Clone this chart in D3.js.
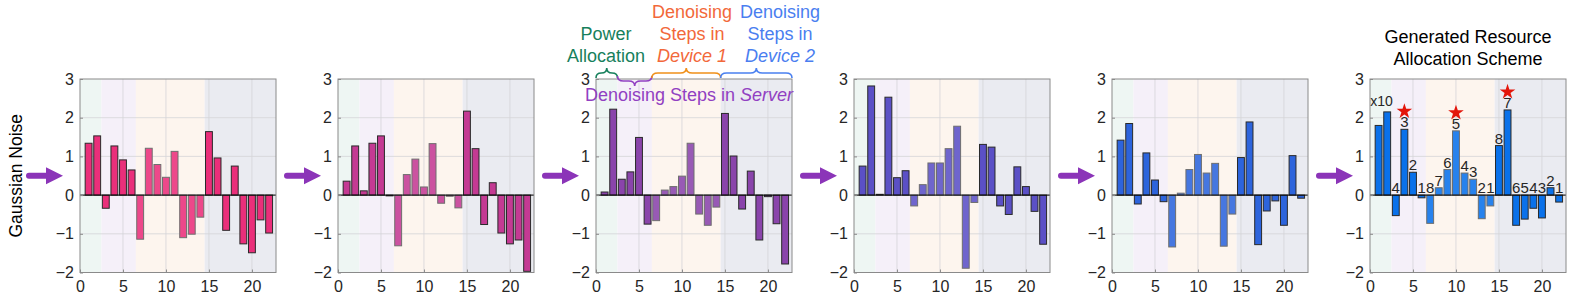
<!DOCTYPE html>
<html><head><meta charset="utf-8">
<script src="https://cdn.jsdelivr.net/npm/d3@7"></script>
<style>body{margin:0;background:#fff}svg text{font-family:"Liberation Sans",Arial,sans-serif;}</style>
</head><body><div id="chart"></div>
<script>
const steps = d3.range(1, 23);
const xTicks = [0, 5, 10, 15, 20];
const yTicks = [-2, -1, 0, 1, 2, 3];
const panel1 = [1.34,1.53,-0.34,1.27,0.91,0.65,-1.14,1.21,0.79,0.46,1.13,-1.10,-1.01,-0.57,1.64,0.96,-0.91,0.75,-1.26,-1.49,-0.64,-0.98];
const panel2 = [0.36,1.27,0.11,1.34,1.53,-0.02,-1.31,0.53,0.93,0.21,1.33,-0.21,-0.03,-0.33,2.17,1.20,-0.76,0.32,-0.98,-1.26,-1.16,-1.97];
const panel3 = [0.08,2.22,0.41,0.60,1.49,-0.75,-0.66,0.13,0.22,0.49,1.34,-0.49,-0.78,-0.31,2.11,1.01,-0.36,0.62,-1.16,-0.04,-0.74,-1.78];
const panel4 = [0.75,2.82,0.02,2.53,0.45,0.63,-0.28,0.27,0.83,0.83,1.20,1.78,-1.89,-0.19,1.31,1.24,-0.28,-0.50,0.73,0.22,-0.42,-1.27];
const panel5 = [1.42,1.85,-0.23,1.09,0.39,-0.17,-1.34,0.05,0.66,1.05,0.57,0.82,-1.32,-0.49,0.97,1.89,-1.28,-0.41,-0.15,-0.78,1.02,-0.08];
const panel6 = [1.80,2.15,-0.53,1.70,0.59,-0.07,-0.73,0.19,0.66,1.66,0.57,0.41,-0.61,-0.28,1.28,2.20,-0.78,-0.62,-0.34,-0.59,0.19,-0.18];
const schemeLabels = ["","","4","3","2","1","8","7","6","5","4","3","2","1","8","7","6","5","4","3","2","1"];
const starSteps = [4, 10, 16];
const regionBounds = [[0, 2.5], [2.5, 6.5], [6.5, 14.5], [14.5, 22.8]];
const yLabel = "Gaussian Noise";
const schemeTitle = ["Generated Resource", "Allocation Scheme"];
const multiplierLabel = "x10";

const panels = [panel1, panel2, panel3, panel4, panel5, panel6];
const barColors = ["#ea2f7a", "#c43a93", "#8a44ab", "#5b50c6", "#2d64dc", "#0a71ea"];
const bandColors = ["#eef6f3", "#f5f0f9", "#fdf5ee", "#eaebf1"];

const W = 1578, H = 300;
const svg = d3.select("#chart").append("svg").attr("width", W).attr("height", H);
const lefts = [80, 338, 596, 854, 1112, 1370];
const pw = 196, plotTop = 79, plotBottom = 272.5;
const textColor = "#262626";

function regionOf(s) { return s <= 2 ? 0 : s <= 6 ? 1 : s <= 14 ? 2 : 3; }

panels.forEach((vals, pi) => {
  const L = lefts[pi];
  const x = d3.scaleLinear().domain([0, 22.8]).range([L, L + pw]);
  const y = d3.scaleLinear().domain([-2, 3]).range([plotBottom, plotTop]);
  const g = svg.append("g");
  g.selectAll("rect.band").data(regionBounds).join("rect")
    .attr("x", d => x(d[0])).attr("width", d => x(d[1]) - x(d[0]))
    .attr("y", plotTop).attr("height", plotBottom - plotTop)
    .attr("fill", (d, i) => bandColors[i]);
  g.selectAll("line.gx").data(xTicks.slice(1)).join("line")
    .attr("x1", d => x(d)).attr("x2", d => x(d)).attr("y1", plotTop).attr("y2", plotBottom)
    .attr("stroke", "#d4d4d8").attr("stroke-width", 0.8);
  g.selectAll("line.gy").data(yTicks.slice(1, -1)).join("line")
    .attr("y1", d => y(d)).attr("y2", d => y(d)).attr("x1", L).attr("x2", L + pw)
    .attr("stroke", "#d4d4d8").attr("stroke-width", 0.8);
  const bw = x(0.8) - x(0);
  const base = d3.color(barColors[pi]);
  g.selectAll("rect.bar").data(vals).join("rect")
    .attr("x", (d, i) => x(steps[i]) - bw / 2)
    .attr("width", bw)
    .attr("y", d => y(Math.max(d, 0)))
    .attr("height", d => Math.abs(y(d) - y(0)))
    .attr("fill", (d, i) => regionOf(steps[i]) === 2 ? d3.interpolateRgb(base, "#ffffff")(0.12) : base)
    .attr("stroke", (d, i) => regionOf(steps[i]) === 2 ? "#6e6e6e" : "#2a2a2a")
    .attr("stroke-width", 1);
  g.append("line").attr("x1", L).attr("x2", L + pw).attr("y1", y(0)).attr("y2", y(0))
    .attr("stroke", "#000").attr("stroke-width", 1);
  g.append("rect").attr("x", L).attr("y", plotTop).attr("width", pw).attr("height", plotBottom - plotTop)
    .attr("fill", "none").attr("stroke", "#8a8a8a").attr("stroke-width", 1);
  const ax = g.append("g").attr("transform", `translate(0,${plotBottom})`)
    .call(d3.axisBottom(x).tickValues(xTicks).tickFormat(d3.format("d")).tickSizeInner(-3).tickSizeOuter(0).tickPadding(8));
  const ay = g.append("g").attr("transform", `translate(${L},0)`)
    .call(d3.axisLeft(y).tickValues(yTicks).tickFormat(d3.format("d")).tickSizeInner(-3).tickSizeOuter(0).tickPadding(6));
  [ax, ay].forEach(a => {
    a.select(".domain").remove();
    a.selectAll(".tick line").attr("stroke", "#8a8a8a");
    a.selectAll(".tick text").attr("fill", textColor).style("font-size", "16px")
      .style("font-family", '"Liberation Sans", Arial, sans-serif');
  });
  const ay0 = y(0.5), ax0 = L - 51, axh = L - 34, ax1 = L - 17;
  g.append("path")
    .attr("d", `M${axh},${ay0 - 3} L${ax0},${ay0 - 3} A3,3 0 0 0 ${ax0},${ay0 + 3} L${axh},${ay0 + 3} L${axh},${ay0 + 8.5} L${ax1},${ay0} L${axh},${ay0 - 8.5} Z`)
    .attr("fill", "#8b34b8");

  if (pi === 0) {
    svg.append("text").attr("transform", `translate(22,${ay0}) rotate(-90)`)
      .attr("text-anchor", "middle").attr("fill", "#000").style("font-size", "17.5px").text(yLabel);
  }
  if (pi === 2) {
    function brace(x1, x2, y0, h) {
      const xm = (x1 + x2) / 2, ym = y0 - h / 2, yt = y0 - h, r = Math.min(6, (x2 - x1) / 4);
      return `M${x1},${y0} Q${x1},${ym} ${x1 + r},${ym} L${xm - r},${ym} Q${xm},${ym} ${xm},${yt} Q${xm},${ym} ${xm + r},${ym} L${x2 - r},${ym} Q${x2},${ym} ${x2},${y0}`;
    }
    const braceCols = ["#17805c", "#9140c2", "#f0901a", "#4a80f0"];
    const braceDefs = [[0, 2.5, 78, 10], [2.5, 6.5, 76, -10], [6.5, 14.5, 78, 10], [14.5, 22.8, 78, 10]];
    braceDefs.forEach((b, i) => {
      g.append("path").attr("d", brace(x(b[0]), x(b[1]), b[2], b[3]))
        .attr("fill", "none").attr("stroke", braceCols[i]).attr("stroke-width", 1.6);
    });
    const ann = g.append("g").style("font-size", "18px").attr("text-anchor", "middle");
    const t1 = ann.append("text").attr("fill", "#17805c");
    t1.append("tspan").attr("x", L + 10).attr("y", 40).text("Power");
    t1.append("tspan").attr("x", L + 10).attr("y", 62).text("Allocation");
    const t2 = ann.append("text").attr("fill", "#f2683a");
    t2.append("tspan").attr("x", L + 96).attr("y", 18).text("Denoising");
    t2.append("tspan").attr("x", L + 96).attr("y", 40).text("Steps in");
    t2.append("tspan").attr("x", L + 96).attr("y", 62).attr("font-style", "italic").text("Device 1");
    const t3 = ann.append("text").attr("fill", "#4a7ef0");
    t3.append("tspan").attr("x", L + 184).attr("y", 18).text("Denoising");
    t3.append("tspan").attr("x", L + 184).attr("y", 40).text("Steps in");
    t3.append("tspan").attr("x", L + 184).attr("y", 62).attr("font-style", "italic").text("Device 2");
    const t4 = g.append("text").attr("x", L - 11).attr("y", 101).attr("fill", "#9140c2").style("font-size", "18px");
    t4.append("tspan").text("Denoising Steps in ");
    t4.append("tspan").attr("font-style", "italic").text("Server");
  }
  if (pi === 5) {
    g.selectAll("text.lbl").data(vals).join("text")
      .attr("x", (d, i) => x(steps[i])).attr("y", d => y(Math.max(d, 0)) - 2)
      .attr("text-anchor", "middle").attr("fill", textColor).style("font-size", "15px")
      .text((d, i) => schemeLabels[i]);
    g.append("text").attr("x", x(1.35)).attr("y", y(2.3)).attr("text-anchor", "middle")
      .attr("fill", textColor).style("font-size", "14px").text(multiplierLabel);
    g.selectAll("path.star").data(starSteps).join("path")
      .attr("transform", s => `translate(${x(s)},${y(vals[s - 1]) - 18})`)
      .attr("d", d3.symbol(d3.symbolStar, 75)).attr("fill", "#e3160b");
    const tt = g.append("text").attr("text-anchor", "middle").attr("fill", "#000").style("font-size", "18px");
    tt.append("tspan").attr("x", L + pw / 2).attr("y", 43).text(schemeTitle[0]);
    tt.append("tspan").attr("x", L + pw / 2).attr("y", 65).text(schemeTitle[1]);
  }
});
</script></body></html>
